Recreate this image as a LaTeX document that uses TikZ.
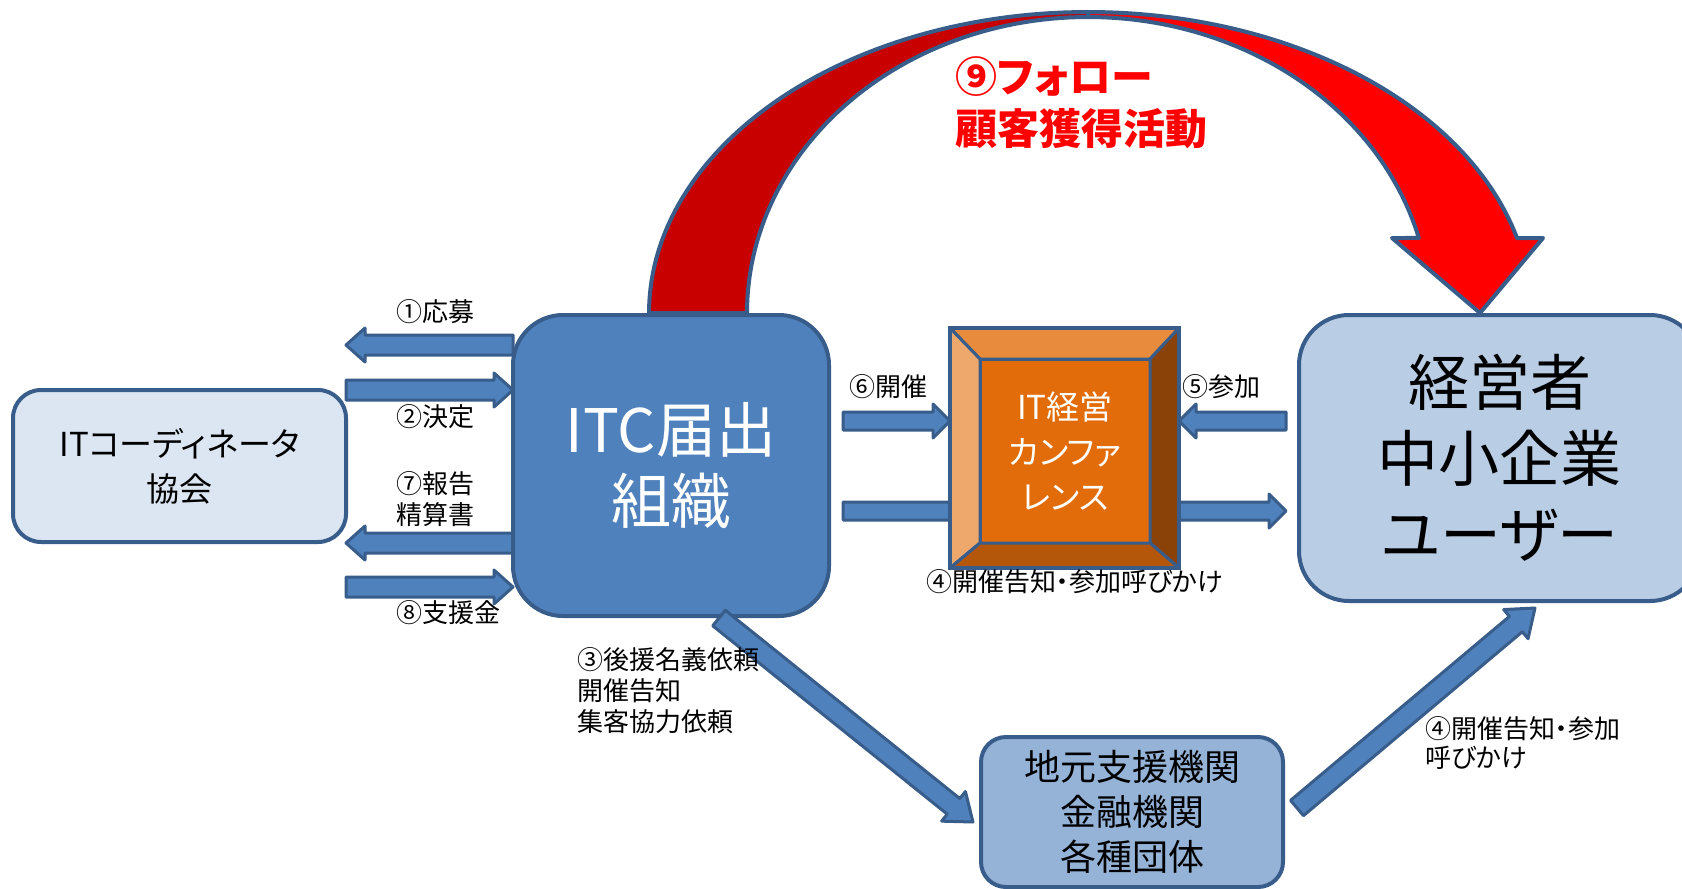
\documentclass[tikz,border=0pt]{standalone}
\usepackage{fontspec}
\setmainfont{Noto Sans CJK JP}[RawFeature=+palt]
\usetikzlibrary{calc}
\definecolor{olblue}{HTML}{385D8A}
\definecolor{accblue}{HTML}{4F81BD}
\definecolor{userfill}{HTML}{B9CDE5}
\definecolor{localfill}{HTML}{95B3D7}
\definecolor{itcafill}{HTML}{DCE6F2}
\definecolor{arcdark}{HTML}{C80000}
\definecolor{arcred}{HTML}{FF0000}
\definecolor{confmain}{HTML}{E36C0A}
\definecolor{conftop}{HTML}{E98B3C}
\definecolor{confleft}{HTML}{EFA86C}
\definecolor{confright}{HTML}{8A4209}
\definecolor{confbottom}{HTML}{B4570A}
\pgfdeclarelayer{background}
\pgfdeclarelayer{foreground}
\pgfsetlayers{background,main,foreground}
\newcommand\blockarrow[6]{%
  \coordinate (ba-hb) at ($(#3)!#6!(#2)$);
  \draw[#1] ($(#2)!#4!90:(#3)$) -- ($(ba-hb)!#4!-90:(#2)$) -- ($(ba-hb)!#5!-90:(#2)$) -- (#3) -- ($(ba-hb)!#5!90:(#2)$) -- ($(ba-hb)!#4!90:(#2)$) -- ($(#2)!#4!-90:(#3)$) -- cycle;}
\tikzset{
  box/.style={draw=olblue, line width=4pt, rounded corners=#1, inner sep=0pt, outer sep=0pt, align=center},
  box/.default=25pt,
  barrow/.style={draw=olblue, fill=accblue, line width=3pt, line join=round},
  arcband/.style={draw=olblue, line width=4pt, line join=round},
  lbl/.style={font=\fontsize{26}{31}\selectfont, inner sep=0pt, outer sep=0pt, align=left, anchor=west},
  bevel/.style={draw=olblue, line width=3pt, line join=round},
}
\begin{document}
\begin{tikzpicture}[x=1pt,y=-1pt]
\useasboundingbox (0,0) rectangle (1682,889);
% boxes
\node[box=28pt, fill=itcafill, minimum width=333pt, minimum height=152pt, font=\fontsize{33}{45}\selectfont] (itca) at (179.5,466) {ITコーディネータ\\協会};
\node[box=50pt, fill=accblue, minimum width=316pt, minimum height=301pt, text=white, font=\fontsize{60}{71}\selectfont] (itc) at (671,465.5) {ITC届出\\組織};
\node[box=50pt, fill=userfill, minimum width=401pt, minimum height=286pt, font=\fontsize{61}{76}\selectfont] (user) at (1499.5,458) {経営者\\中小企業\\ユーザー};
\node[box=25pt, fill=localfill, minimum width=302pt, minimum height=150pt, font=\fontsize{36}{45}\selectfont] (local) at (1132,812) {地元支援機関\\金融機関\\各種団体};
% conference box
\node[draw=none, minimum width=229pt, minimum height=240pt, inner sep=0pt, outer sep=0pt] (conf) at (1064.5,448) {};
\node[fill=confmain, draw=olblue, line width=3pt, minimum width=170pt, minimum height=184pt, inner sep=0pt, outer sep=0pt, text=white, align=center, font=\fontsize{33}{45}\selectfont] (confin) at (1065,451) {IT経営\\カンファ\\レンス};
\draw[bevel, fill=conftop] (conf.north west) -- (conf.north east) -- (confin.north east) -- (confin.north west) -- cycle;
\draw[bevel, fill=confleft] (conf.north west) -- (confin.north west) -- (confin.south west) -- (conf.south west) -- cycle;
\draw[bevel, fill=confright] (conf.north east) -- (conf.south east) -- (confin.south east) -- (confin.north east) -- cycle;
\draw[bevel, fill=confbottom] (conf.south west) -- (confin.south west) -- (confin.south east) -- (conf.south east) -- cycle;
\draw[olblue, line width=4pt] (conf.north west) rectangle (conf.south east);
% labels
\node[lbl] (l1) at (396,312) {①応募};
\node[lbl] (l2) at (396,417) {②決定};
\node[lbl] (l7) at (396,499) {⑦報告\\精算書};
\node[lbl] (l8) at (396,613) {⑧支援金};
\node[lbl] (l6) at (849,387) {⑥開催};
\node[lbl] (l5) at (1182,387) {⑤参加};
\node[lbl] (l4a) at (926,582) {④開催告知・参加呼びかけ};
\node[lbl, font=\fontsize{26}{29}\selectfont] (l4b) at (1425,742.5) {④開催告知・参加\\呼びかけ};
\node[lbl, text=arcred, font=\bfseries\fontsize{42}{52}\selectfont] (l9) at (955,103) {⑨フォロー\\顧客獲得活動};
% behind the boxes
\begin{pgfonlayer}{background}
\fill[white] (0,0) rectangle (1682,889);
\draw[arcband, fill=arcdark] plot[domain=180:90,samples=60] ({1088+439*cos(\x)},{313-301*sin(\x)}) -- plot[domain=90:180,samples=60] ({1088+341*cos(\x)},{313-296*sin(\x)}) -- cycle;
\draw[arcband, fill=arcred] plot[domain=90:14.4,samples=60] ({1088+443*cos(\x)},{313-301*sin(\x)}) -- (1543,238) -- (1480,313) -- (1392,238) -- plot[domain=14.68:90,samples=60] ({1088+342*cos(\x)},{313-296*sin(\x)}) -- cycle;
\coordinate (a1s) at (itc.west |- 0,345);  \coordinate (a1e) at (itca.east |- 0,345);
\coordinate (a2s) at (itca.east |- 0,390); \coordinate (a2e) at (itc.west |- 0,390);
\coordinate (a7s) at (itc.west |- 0,543);  \coordinate (a7e) at (itca.east |- 0,543);
\coordinate (a8s) at (itca.east |- 0,587); \coordinate (a8e) at (itc.west |- 0,587);
\blockarrow{barrow}{a1s}{a1e}{10pt}{17pt}{19pt}
\blockarrow{barrow}{a2s}{a2e}{10pt}{17pt}{19pt}
\blockarrow{barrow}{a7s}{a7e}{10pt}{17pt}{19pt}
\blockarrow{barrow}{a8s}{a8e}{10pt}{17pt}{19pt}
\coordinate (a6s) at ($(itc.east |- 0,421)+(14,0)$); \coordinate (a6e) at (conf.west |- 0,421);
\coordinate (a5s) at ($(user.west |- 0,421)+(-13,0)$); \coordinate (a5e) at (conf.east |- 0,421);
\coordinate (c4s) at ($(itc.east |- 0,511)+(14,0)$); \coordinate (c4e) at ($(user.west |- 0,511)+(-13,0)$);
\blockarrow{barrow}{a6s}{a6e}{9pt}{17pt}{17pt}
\blockarrow{barrow}{a5s}{a5e}{9pt}{17pt}{17pt}
\blockarrow{barrow}{c4s}{c4e}{9pt}{17pt}{17pt}
\end{pgfonlayer}
% in front
\begin{pgfonlayer}{foreground}
\coordinate (a3s) at ($(itc.south)+(48,2)$); \coordinate (a3e) at ($(local.west)+(-8,10)$);
\coordinate (d4s) at ($(local.east)+(14,-4)$); \coordinate (d4e) at ($(user.south)+(35.5,7)$);
\blockarrow{barrow}{a3s}{a3e}{10pt}{19pt}{25pt}
\blockarrow{barrow}{d4s}{d4e}{10pt}{19pt}{25pt}
\node[lbl] (l3) at (577,691) {③後援名義依頼\\開催告知\\集客協力依頼};
\end{pgfonlayer}
\end{tikzpicture}
\end{document}
